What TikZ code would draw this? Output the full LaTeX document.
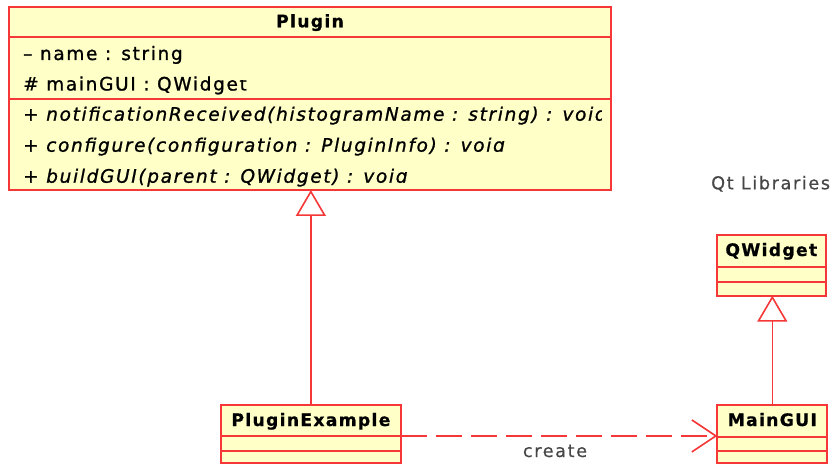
\documentclass[tikz,border=0pt]{standalone}
\usepackage{fontspec}
\setmainfont{DejaVu Sans}
\newfontfamily\umlreg[LetterSpace=9,FakeBold=1.1]{DejaVu Sans}
\newfontfamily\umlbold[LetterSpace=7.5,FakeBold=0.7]{DejaVu Sans Bold}
\newfontfamily\umlit[LetterSpace=9,FakeBold=1.1]{DejaVu Sans Oblique}
\newfontfamily\umlnote[LetterSpace=9,FakeBold=0.5]{DejaVu Sans}
\usetikzlibrary{arrows.meta,calc}
\definecolor{umlred}{RGB}{245,55,55}
\definecolor{umlfill}{RGB}{255,255,200}
\definecolor{umlgray}{RGB}{70,70,70}
\begin{document}
\begin{tikzpicture}[x=1pt,y=-1pt,
  cls/.style={draw=umlred, fill=umlfill, line width=1.8pt, inner sep=0pt, outer sep=0pt, anchor=north west},
  sepline/.style={draw=umlred, line width=1.8pt},
  clsname/.style={anchor=base, inner sep=0pt, font={\umlbold\fontsize{17.2pt}{20pt}\selectfont}},
  member/.style={anchor=base west, inner sep=0pt, font={\umlreg\fontsize{18.5pt}{20pt}\selectfont}},
  method/.style={anchor=base west, inner sep=0pt, font={\umlit\fontsize{18.5pt}{20pt}\selectfont}},
  note/.style={anchor=base, inner sep=0pt, text=umlgray, font={\umlnote\fontsize{17.7pt}{20pt}\selectfont}},
  gen/.style={draw=umlred, line width=1.6pt, -{Triangle[open,length=26pt,width=30pt]}},
  dep/.style={draw=umlred, line width=1.6pt, dash pattern=on 26pt off 9pt, -{Straight Barb[length=24pt,width=32pt]}},
  patch/.style={fill=umlfill, draw=none}
]
\useasboundingbox (0,0) rectangle (835,465);

% Plugin class
\node[cls, minimum width=602pt, minimum height=183pt] (plugin) at (9,7) {};
\draw[sepline] ($(plugin.north west)+(0,30)$) -- ($(plugin.north east)+(0,30)$);
\draw[sepline] ($(plugin.north west)+(0,92)$) -- ($(plugin.north east)+(0,92)$);
\node[clsname] (plugin-name) at (310,27.3) {Plugin};
\node[member] (attr1) at (23,60) {– name : string};
\node[member] (attr2) at (23,90.5) {\# mainGUI : QWidget};
\node[method] (op1) at (23,120.7) {+ notificationReceived(histogramName : string) : void};
\node[method] (op2) at (23,151.7) {+ configure(configuration : PluginInfo) : void};
\node[method] (op3) at (23,182.7) {+ buildGUI(parent : QWidget) : void};
\fill[patch] ([xshift=-9pt,yshift=10.8pt]attr2.base east) rectangle ([xshift=3pt,yshift=1pt]attr2.north east);
\fill[patch] ([xshift=-5pt,yshift=-1pt]op1.base east) rectangle ([xshift=3pt,yshift=1pt]op1.north east);
\fill[patch] ([xshift=-6pt,yshift=10.5pt]op2.base east) rectangle ([xshift=3pt,yshift=1pt]op2.north east);
\fill[patch] ([xshift=-6pt,yshift=10.5pt]op3.base east) rectangle ([xshift=3pt,yshift=1pt]op3.north east);

% QWidget class
\node[cls, minimum width=109.3pt, minimum height=60.7pt] (qwidget) at (716.7,235) {};
\draw[sepline] ($(qwidget.north west)+(0,31.7)$) -- ($(qwidget.north east)+(0,31.7)$);
\draw[sepline] ($(qwidget.north west)+(0,47)$) -- ($(qwidget.north east)+(0,47)$);
\node[clsname] (qwidget-name) at (771.3,256) {QWidget};

% MainGUI class
\node[cls, minimum width=110pt, minimum height=58.3pt] (maingui) at (717.3,405) {};
\draw[sepline] ($(maingui.north west)+(0,31.7)$) -- ($(maingui.north east)+(0,31.7)$);
\draw[sepline] ($(maingui.north west)+(0,46)$) -- ($(maingui.north east)+(0,46)$);
\node[clsname] (maingui-name) at (772.3,426) {MainGUI};

% PluginExample class
\node[cls, minimum width=180.3pt, minimum height=58.3pt] (pluginexample) at (220.7,405) {};
\draw[sepline] ($(pluginexample.north west)+(0,31)$) -- ($(pluginexample.north east)+(0,31)$);
\draw[sepline] ($(pluginexample.north west)+(0,45.7)$) -- ($(pluginexample.north east)+(0,45.7)$);
\node[clsname] (pluginexample-name) at (310.9,426) {PluginExample};

% connectors
\draw[gen] (pluginexample.north) -- (pluginexample.north |- plugin.south);
\draw[gen] (maingui.north) -- (maingui.north |- qwidget.south);
\draw[dep] ([yshift=-1.8pt]pluginexample.east) -- ([yshift=-1.8pt]pluginexample.east -| maingui.west);

% labels
\node[note] (create) at (555,457) {create};
\node[note, anchor=base west] (qtlib) at (711,189.3) {Qt Libraries};
\end{tikzpicture}
\end{document}
